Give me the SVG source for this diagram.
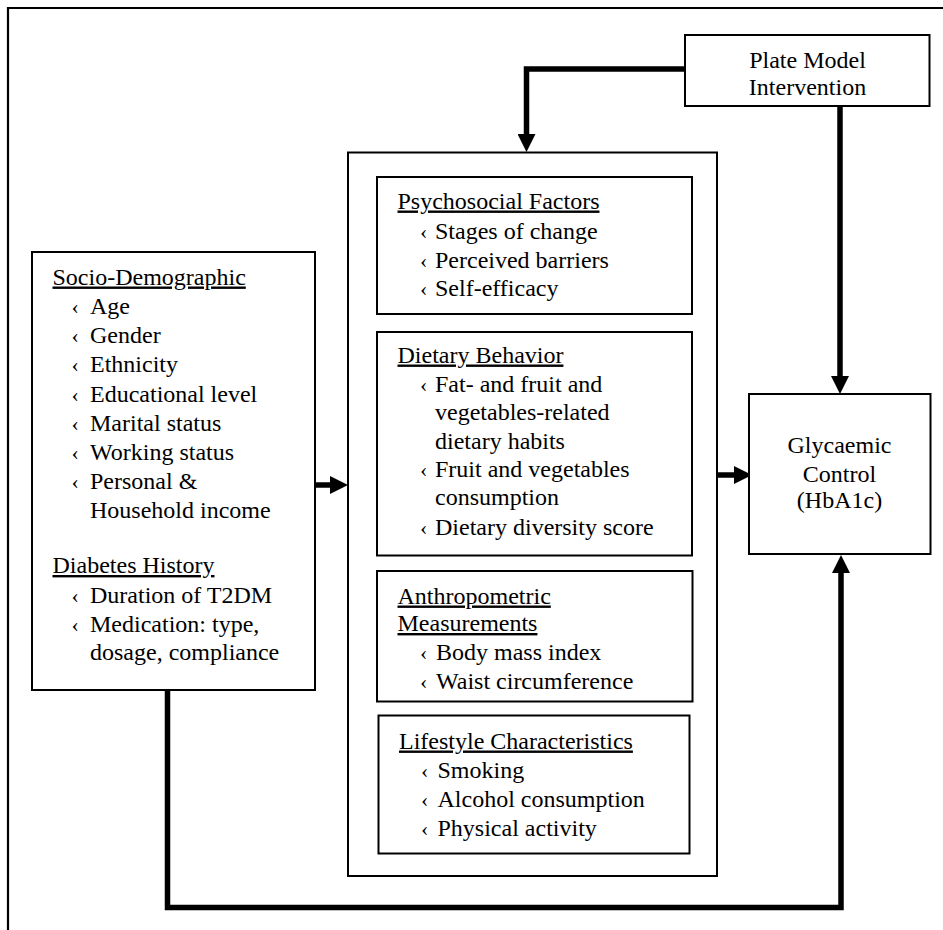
<svg xmlns="http://www.w3.org/2000/svg" width="943" height="930" viewBox="0 0 943 930">
<style>
  .box { fill: #ffffff; stroke: #000000; stroke-width: 2; }
  .frame { fill: none; stroke: #000000; stroke-width: 2.2; }
  .conn { fill: none; stroke: #000000; stroke-width: 5.5; stroke-linejoin: miter; stroke-linecap: square; }
  text { font-family: "Liberation Serif", "Times New Roman", serif; font-size: 24px; fill: #000000; }
  .hd { text-decoration: underline; }
  .mid { text-anchor: middle; }
  .bl { font-size: 22px; }
</style>
<defs>
  <marker id="arrow" markerUnits="userSpaceOnUse" markerWidth="18" markerHeight="18" refX="0" refY="9" orient="auto">
    <path d="M0,0 L18,9 L0,18 z" fill="#000000"/>
  </marker>
</defs>
<rect width="943" height="930" fill="#ffffff"/>
<path class="frame" d="M8,930 V8 H943"/>

<g id="connectors">
  <path class="conn" d="M685,69 H526.5 V134" marker-end="url(#arrow)" style="stroke-linecap:butt"/>
  <path class="conn" d="M840,106 V376" marker-end="url(#arrow)" style="stroke-linecap:butt"/>
  <path class="conn" d="M315,485 H330" marker-end="url(#arrow)" style="stroke-linecap:butt"/>
  <path class="conn" d="M717,475 H734" marker-end="url(#arrow)" style="stroke-linecap:butt"/>
  <path class="conn" d="M167.5,690 V907.5 H841 V573" marker-end="url(#arrow)" style="stroke-linecap:butt"/>
</g>

<g id="plate-model">
  <rect class="box" x="685" y="35" width="244.5" height="71"/>
  <text class="mid" x="807.5" y="67.5">Plate Model</text>
  <text class="mid" x="807.5" y="95">Intervention</text>
</g>

<g id="glycaemic-control">
  <rect class="box" x="749" y="394" width="181.5" height="160"/>
  <text class="mid" x="839.5" y="453">Glycaemic</text>
  <text class="mid" x="839.5" y="481.5">Control</text>
  <text class="mid" x="839.5" y="508">(HbA1c)</text>
</g>

<g id="socio-demographic">
  <rect class="box" x="32" y="252" width="283" height="438"/>
  <text class="hd" x="52.5" y="284.5">Socio-Demographic</text>
  <text class="bl" x="71.5" y="313.5">‹</text><text x="90" y="313.5">Age</text>
  <text class="bl" x="71.5" y="343">‹</text><text x="90" y="343">Gender</text>
  <text class="bl" x="71.5" y="372">‹</text><text x="90" y="372">Ethnicity</text>
  <text class="bl" x="71.5" y="401.5">‹</text><text x="90" y="401.5">Educational level</text>
  <text class="bl" x="71.5" y="430.5">‹</text><text x="90" y="430.5">Marital status</text>
  <text class="bl" x="71.5" y="460">‹</text><text x="90" y="460">Working status</text>
  <text class="bl" x="71.5" y="488.5">‹</text><text x="90" y="488.5">Personal &amp;</text>
  <text x="90" y="518">Household income</text>
  <text class="hd" x="52.5" y="573">Diabetes History</text>
  <text class="bl" x="71.5" y="602.5">‹</text><text x="90" y="602.5">Duration of T2DM</text>
  <text class="bl" x="71.5" y="631.5">‹</text><text x="90" y="631.5">Medication: type,</text>
  <text x="90" y="660">dosage, compliance</text>
</g>

<g id="mediators">
  <rect class="box" x="348" y="152.5" width="369" height="723.5"/>
</g>

<g id="psychosocial-factors">
  <rect class="box" x="377" y="177" width="315" height="137"/>
  <text class="hd" x="397.5" y="208.5">Psychosocial Factors</text>
  <text class="bl" x="420" y="238.5">‹</text><text x="435" y="238.5">Stages of change</text>
  <text class="bl" x="420" y="267.5">‹</text><text x="435" y="267.5">Perceived barriers</text>
  <text class="bl" x="420" y="296">‹</text><text x="435" y="296">Self-efficacy</text>
</g>

<g id="dietary-behavior">
  <rect class="box" x="377" y="332" width="315" height="223.5"/>
  <text class="hd" x="397.5" y="362.5">Dietary Behavior</text>
  <text class="bl" x="420" y="392">‹</text><text x="435" y="392">Fat- and fruit and</text>
  <text x="435" y="420">vegetables-related</text>
  <text x="435" y="448.5">dietary habits</text>
  <text class="bl" x="420" y="476.5">‹</text><text x="435" y="476.5">Fruit and vegetables</text>
  <text x="435" y="505">consumption</text>
  <text class="bl" x="420" y="535">‹</text><text x="435" y="535">Dietary diversity score</text>
</g>

<g id="anthropometric-measurements">
  <rect class="box" x="377" y="571" width="315.5" height="130.5"/>
  <text class="hd" x="397.5" y="603.5">Anthropometric</text>
  <text class="hd" x="397.5" y="631">Measurements</text>
  <text class="bl" x="420" y="659.5">‹</text><text x="436" y="659.5">Body mass index</text>
  <text class="bl" x="420" y="688.5">‹</text><text x="436" y="688.5">Waist circumference</text>
</g>

<g id="lifestyle-characteristics">
  <rect class="box" x="378.5" y="715.5" width="311" height="138"/>
  <text class="hd" x="399" y="748.5">Lifestyle Characteristics</text>
  <text class="bl" x="421" y="777.5">‹</text><text x="437.5" y="777.5">Smoking</text>
  <text class="bl" x="421" y="806.5">‹</text><text x="437.5" y="806.5">Alcohol consumption</text>
  <text class="bl" x="421" y="836">‹</text><text x="437.5" y="836">Physical activity</text>
</g>
</svg>
